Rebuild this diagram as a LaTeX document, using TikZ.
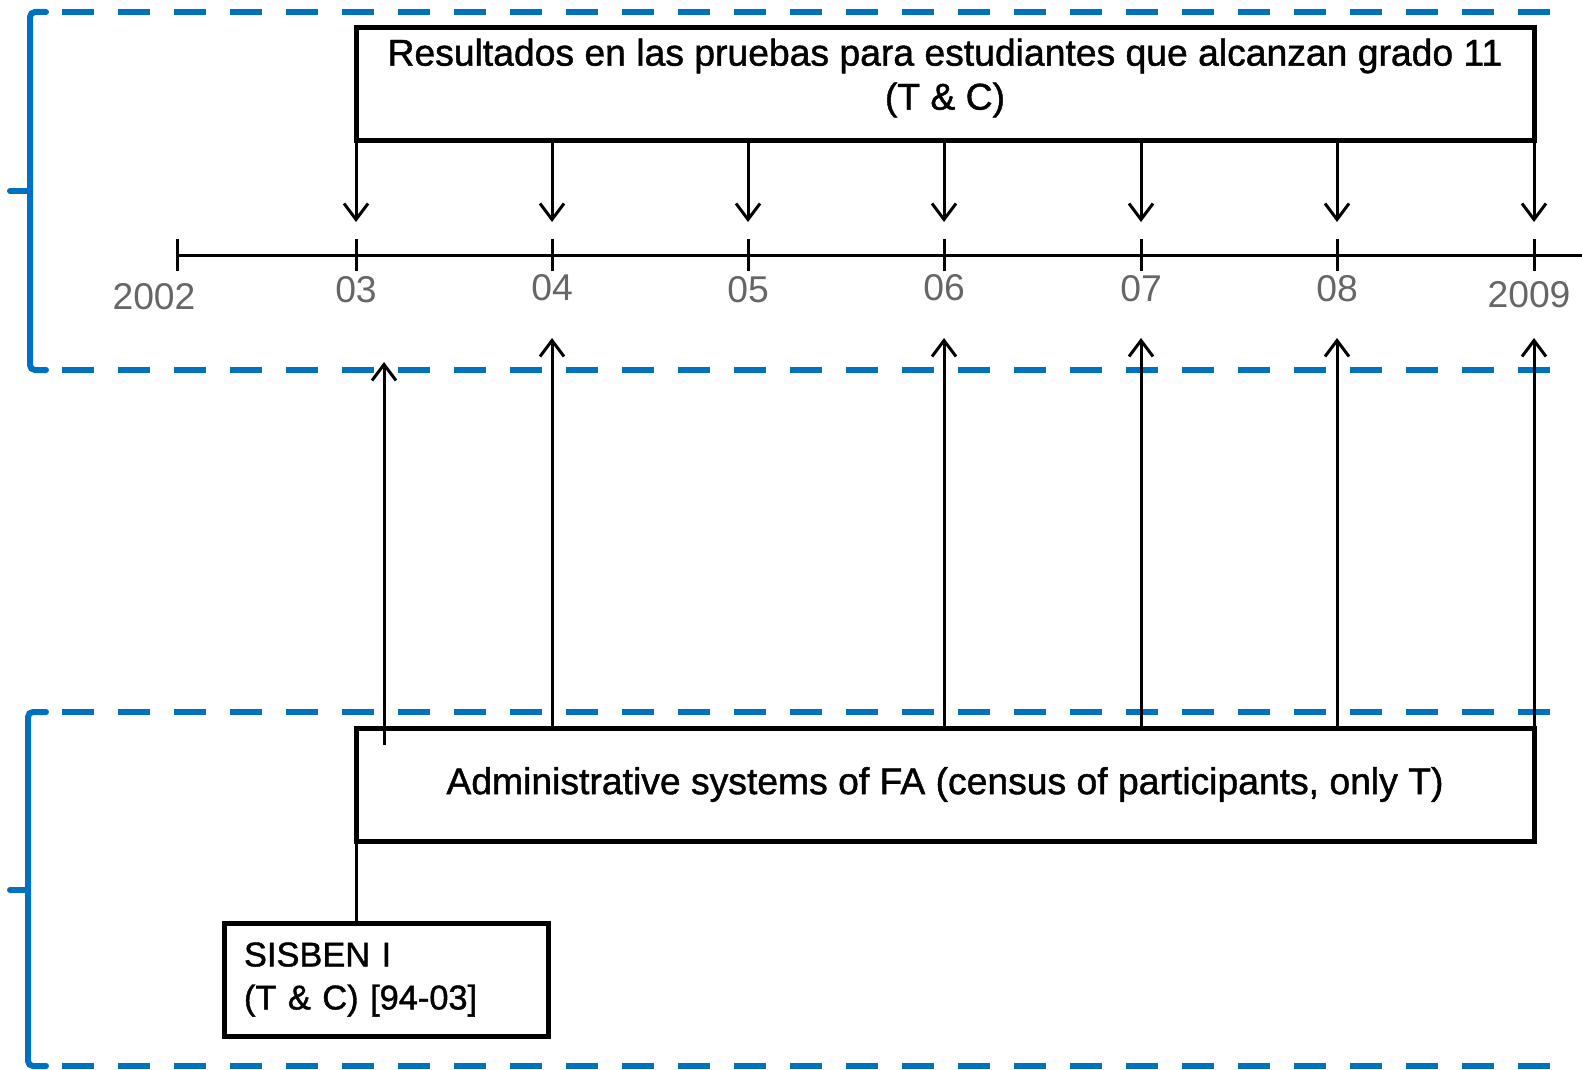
\documentclass[tikz,border=0pt]{standalone}
\usepackage{fontspec}
\setmainfont{Liberation Sans}
\newfontfamily\boxfont[FakeBold=1.2]{Liberation Sans}
\usetikzlibrary{arrows.meta}
\definecolor{bracketblue}{HTML}{0070C0}
\definecolor{yeargray}{HTML}{666666}
\begin{document}
\begin{tikzpicture}[x=1pt,y=-1pt,
  every node/.style={font=\fontsize{37.3}{44}\selectfont},
  box/.style={draw, line width=5pt, minimum height=113pt, inner sep=0pt, outer sep=0pt,
    font=\boxfont\fontsize{37.3}{44}\selectfont},
  year/.style={text=yeargray, inner sep=0pt},
  axis/.style={line width=3pt},
  arr/.style={line width=3pt, -{Straight Barb[length=16pt,width=24pt]}},
  link/.style={line width=3pt},
  bluesolid/.style={draw=bracketblue, line width=6pt, rounded corners=5pt, line cap=round},
  bluedash/.style={draw=bracketblue, line width=6.5pt, dash pattern=on 32pt off 24pt}]
\useasboundingbox (0,0) rectangle (1582,1070);

% blue brackets
\draw[bluedash] (62,12) -- (1552,12);
\draw[bluedash] (62,370) -- (1552,370);
\draw[bluesolid] (46,12) -- (30,12) -- (30,370) -- (46,370);
\draw[bluesolid] (30,191) -- (10,191);
\draw[bluedash] (62,712) -- (1552,712);
\draw[bluedash] (62,1066) -- (1552,1066);
\draw[bluesolid] (46,712) -- (28,712) -- (28,1066) -- (46,1066);
\draw[bluesolid] (28,890) -- (10,890);

% boxes
\node[box, minimum width=1178pt] (res) at (945,84.5) {};
\node[align=center, font=\boxfont\fontsize{37.3}{44}\selectfont] (restext) at (945,78)
  {Resultados en las pruebas para estudiantes que alcanzan grado 11\\(T \& C)};
\node[box, minimum width=1178pt] (admin) at (945,784.5)
  {Administrative systems of FA (census of participants, only T)};
\node[box, minimum width=324pt, text width=284pt, inner xsep=20pt, align=left,
  font=\boxfont\fontsize{34.4}{43}\selectfont] (sisben) at (386,979.5)
  {SISBEN I\\(T \& C) [94-03]};

% timeline
\coordinate (t02) at (177,255);
\coordinate (t03) at (356,255);
\coordinate (t04) at (552,255);
\coordinate (t05) at (748,255);
\coordinate (t06) at (944,255);
\coordinate (t07) at (1141,255);
\coordinate (t08) at (1337,255);
\coordinate (t09) at (1534,255);
\coordinate (tend) at (1582,255);
\draw[axis] (t02) -- (tend);
\foreach \t in {t02,t03,t04,t05,t06,t07,t08,t09}
  \draw[axis] (\t) ++(0,-16) -- ++(0,32);

% year labels
\node[year] (y02) at (154,297) {2002};
\node[year] (y03) at (356,290) {03};
\node[year] (y04) at (552,288) {04};
\node[year] (y05) at (748,290) {05};
\node[year] (y06) at (944,288) {06};
\node[year] (y07) at (1141,289) {07};
\node[year] (y08) at (1337,289) {08};
\node[year] (y09) at (1529,295) {2009};

% down arrows
\coordinate (dtip) at (0,222);
\foreach \t in {t03,t04,t05,t06,t07,t08,t09}
  \draw[arr] (res.south -| \t) -- (\t |- dtip);

% up arrows
\coordinate (utip) at (0,338);
\foreach \t in {t04,t06,t07,t08,t09}
  \draw[arr] (admin.north -| \t) -- (\t |- utip);
\coordinate (s03a) at (384,745);
\coordinate (s03b) at (384,362);
\draw[arr] (s03a) -- (s03b);

% link to SISBEN
\draw[link] (admin.south west) -- (admin.south west |- sisben.north);
\end{tikzpicture}
\end{document}
